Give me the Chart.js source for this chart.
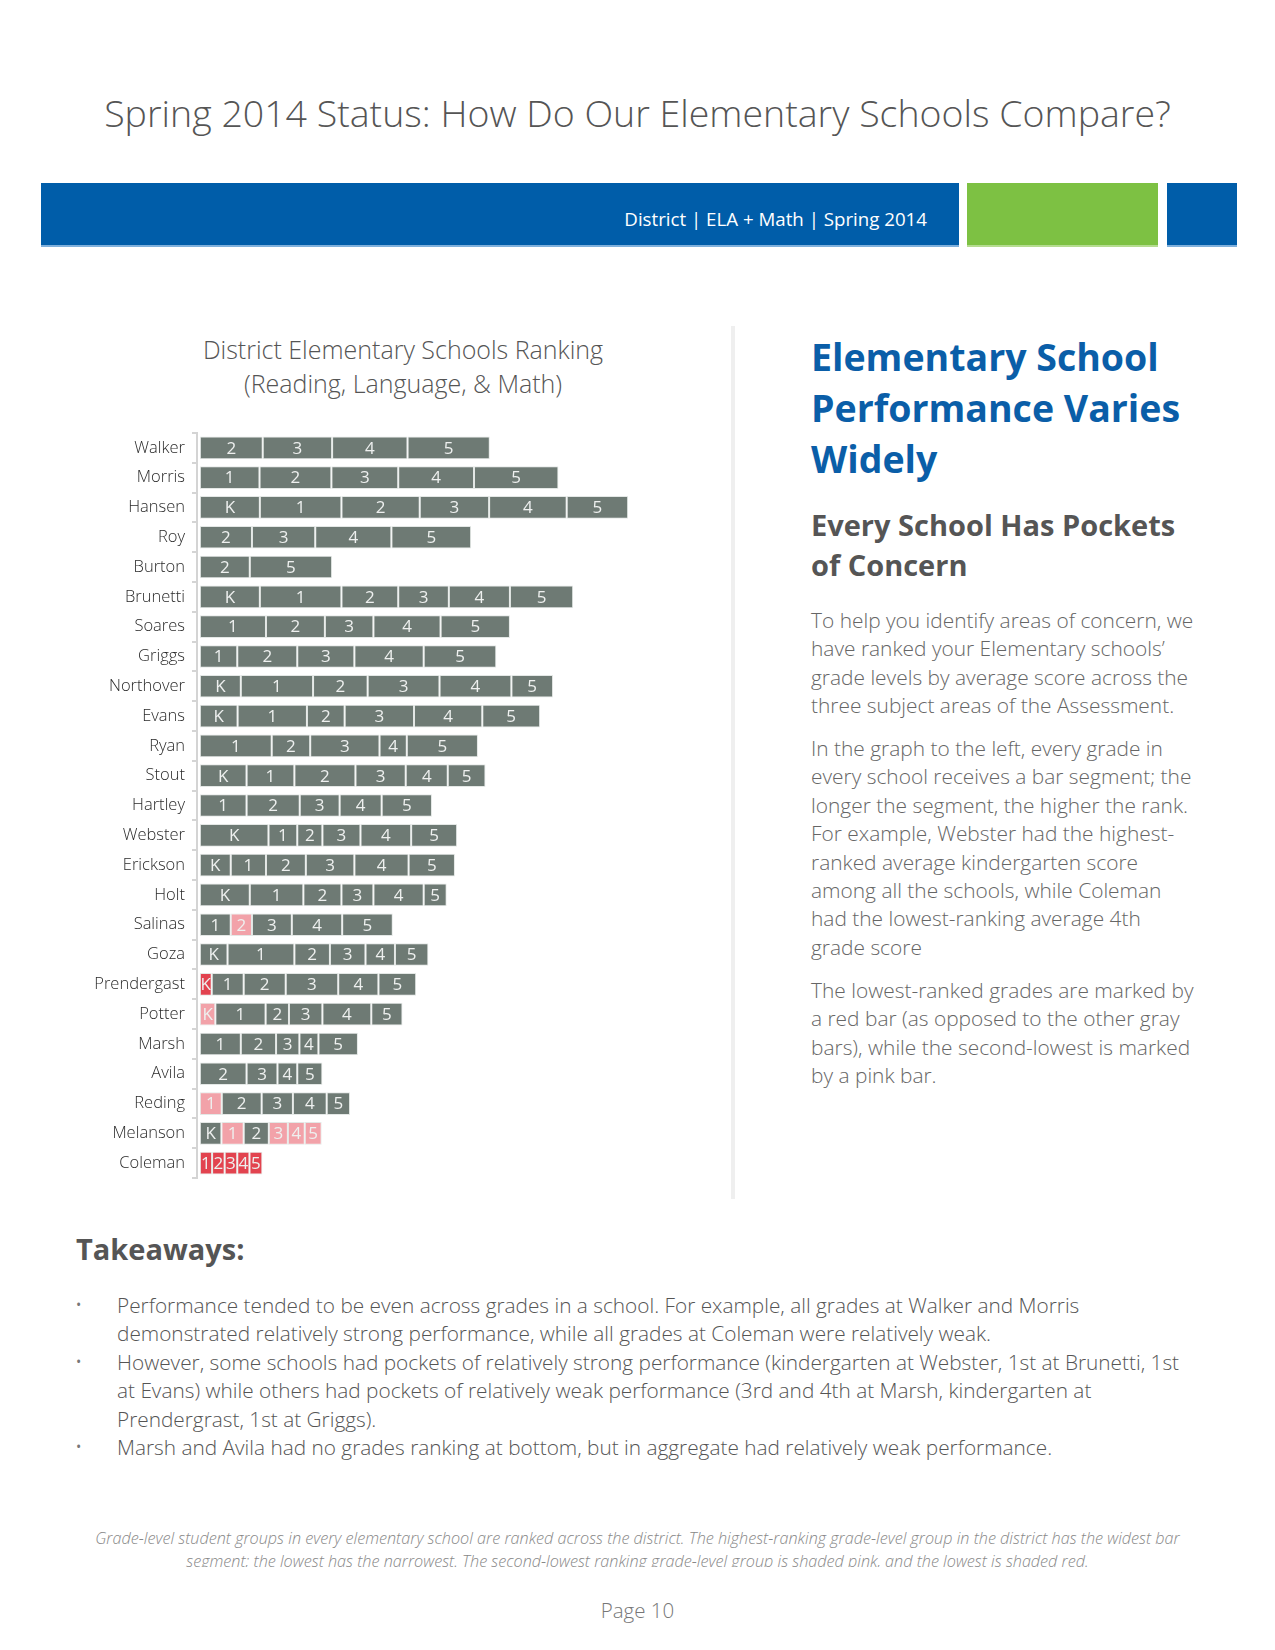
<!DOCTYPE html>
<html>
<head>
<meta charset="utf-8">
<script src="https://cdn.jsdelivr.net/npm/chart.js@4"></script>
<style>
  body { margin: 0; background: #fff; font-family: "Open Sans", sans-serif; }
  #page { position: relative; width: 1275px; height: 1650px; overflow: hidden; }
  .abs { position: absolute; white-space: nowrap; }
  #title { left: 0; width: 1275px; top: 88px; text-align: center; font-size: 37.5px; font-weight: 300; color: #555; line-height: 50px; }
  #band1 { left: 41px; top: 183px; width: 918px; height: 62px; background: #005da9; border-bottom: 2px solid #7fb0dc; }
  #band2 { left: 967px; top: 183px; width: 191px; height: 62px; background: #7dc143; border-bottom: 2px solid #b5dc90; }
  #band3 { left: 1167px; top: 183px; width: 70px; height: 62px; background: #005da9; border-bottom: 2px solid #7fb0dc; }
  #bandtext { right: 348px; top: 206px; font-size: 18.7px; color: #fff; line-height: 26px; }
  #divider { left: 731px; top: 326px; width: 4px; height: 873px; background: #efefef; }
  #ctitle { left: 153px; width: 500px; top: 332px; text-align: center; font-size: 25px; font-weight: 300; color: #555; line-height: 34px; }
  #chartbox { position: absolute; left: 40px; top: 416px; width: 600px; height: 779px; }
  #h1 { left: 811px; top: 331px; font-size: 37.5px; font-weight: 700; color: #0a5ea8; line-height: 51px; }
  #h2 { left: 811px; top: 505px; font-size: 29px; font-weight: 700; color: #555; line-height: 40px; }
  .para { left: 811px; font-size: 20.9px; font-weight: 300; color: #666; line-height: 28.4px; }
  #take { left: 76px; top: 1229px; font-size: 29px; font-weight: 700; color: #555; line-height: 40px; }
  .bul { left: 117px; font-size: 20.8px; font-weight: 300; color: #555; line-height: 28.4px; }
  .dot { left: 76px; font-size: 14px; color: #777; }
  #foot { left: 0; width: 1275px; top: 1527px; height: 40px; overflow: hidden; text-align: center; font-size: 16.2px; font-style: italic; font-weight: 300; color: #888; line-height: 23px; }
  #pnum { left: 0; width: 1275px; top: 1596px; text-align: center; font-size: 20.5px; font-weight: 300; color: #777; line-height: 28px; }
</style>
</head>
<body>
<div id="page">
  <div class="abs" id="title">Spring 2014 Status: How Do Our Elementary Schools Compare?</div>
  <div class="abs" id="band1"></div>
  <div class="abs" id="band2"></div>
  <div class="abs" id="band3"></div>
  <div class="abs" id="bandtext">District | ELA + Math | Spring 2014</div>
  <div class="abs" id="divider"></div>

  <div class="abs" id="ctitle">District Elementary Schools Ranking<br>(Reading, Language, &amp; Math)</div>
  <div id="chartbox"><canvas id="rankChart"></canvas></div>

  <div class="abs" id="h1">Elementary School<br>Performance Varies<br>Widely</div>
  <div class="abs" id="h2">Every School Has Pockets<br>of Concern</div>
  <div class="abs para" style="top:606px">To help you identify areas of concern, we<br>have ranked your Elementary schools’<br>grade levels by average score across the<br>three subject areas of the Assessment.</div>
  <div class="abs para" style="top:734px">In the graph to the left, every grade in<br>every school receives a bar segment; the<br>longer the segment, the higher the rank.<br>For example, Webster had the highest-<br>ranked average kindergarten score<br>among all the schools, while Coleman<br>had the lowest-ranking average 4th<br>grade score</div>
  <div class="abs para" style="top:976px">The lowest-ranked grades are marked by<br>a red bar (as opposed to the other gray<br>bars), while the second-lowest is marked<br>by a pink bar.</div>

  <div class="abs" id="take">Takeaways:</div>
  <div class="abs dot" style="top:1295px">•</div>
  <div class="abs dot" style="top:1352px">•</div>
  <div class="abs dot" style="top:1437px">•</div>
  <div class="abs bul" style="top:1291px">Performance tended to be even across grades in a school. For example, all grades at Walker and Morris<br>demonstrated relatively strong performance, while all grades at Coleman were relatively weak.</div>
  <div class="abs bul" style="top:1348px">However, some schools had pockets of relatively strong performance (kindergarten at Webster, 1st at Brunetti, 1st<br>at Evans) while others had pockets of relatively weak performance (3rd and 4th at Marsh, kindergarten at<br>Prendergrast, 1st at Griggs).</div>
  <div class="abs bul" style="top:1433px">Marsh and Avila had no grades ranking at bottom, but in aggregate had relatively weak performance.</div>

  <div class="abs" id="foot">Grade-level student groups in every elementary school are ranked across the district. The highest-ranking grade-level group in the district has the widest bar<br>segment; the lowest has the narrowest. The second-lowest ranking grade-level group is shaded pink, and the lowest is shaded red.</div>
  <div class="abs" id="pnum">Page 10</div>
</div>

<script>
const schools = ["Walker", "Morris", "Hansen", "Roy", "Burton", "Brunetti", "Soares", "Griggs",
  "Northover", "Evans", "Ryan", "Stout", "Hartley", "Webster", "Erickson", "Holt", "Salinas",
  "Goza", "Prendergast", "Potter", "Marsh", "Avila", "Reding", "Melanson", "Coleman"];

const grades = ["K", "1", "2", "3", "4", "5"];

// segment width per grade (wider = higher rank), null = grade not present
const gradeK = [null, null, 167, null, null, 167, null, null, 114, 105, null, 130, null, 191, 86, 139, null, 77, 33, 43, null, null, null, 60, null];
const grade1 = [null, 166, 227, null, null, 227, 184, 104, 201, 193, 200, 133, 130, 80, 98, 149, 86, 186, 89, 140, 114, null, 61, 62, 34];
const grade2 = [175, 200, 218, 145, 139, 158, 164, 167, 152, 105, 107, 170, 148, 70, 111, 106, 59, 99, 117, 65, 98, 130, 111, 70, 35];
const grade3 = [193, 186, 193, 176, null, 141, 135, 159, 200, 193, 193, 140, 111, 106, 135, 89, 111, 99, 146, 93, 65, 86, 87, 53, 35];
const grade4 = [210, 211, 216, 212, null, 170, 187, 193, 200, 190, 76, 117, 117, 141, 151, 140, 140, 82, 112, 136, 53, 55, 94, 47, 34];
const grade5 = [229, 235, 171, 222, 229, 176, 193, 202, 116, 161, 198, 105, 140, 128, 129, 64, 141, 93, 105, 87, 110, 70, 65, 47, 36];

// lowest and second-lowest ranked groups
const lowest = ["Prendergast|K", "Coleman|1", "Coleman|2", "Coleman|3", "Coleman|4", "Coleman|5"];
const secondLowest = ["Potter|K", "Salinas|2", "Reding|1", "Melanson|1", "Melanson|3", "Melanson|4", "Melanson|5"];

const values = [gradeK, grade1, grade2, grade3, grade4, grade5];

function segColor(school, grade) {
  const key = school + "|" + grade;
  if (lowest.includes(key)) return "#e2434f";
  if (secondLowest.includes(key)) return "#f2a2a9";
  return "#6e7a74";
}

const datasets = grades.map((g, i) => ({
  label: g,
  data: values[i],
  backgroundColor: schools.map(s => segColor(s, g)),
  borderColor: "#e4e8e6",
  borderWidth: 1,
  borderSkipped: false,
  barPercentage: 0.76,
  categoryPercentage: 1,
}));

// grade label in the middle of each segment
const segLabels = {
  id: "segLabels",
  afterDatasetsDraw(chart) {
    const ctx = chart.ctx;
    ctx.save();
    ctx.font = "400 17px 'Open Sans'";
    ctx.fillStyle = "#eef0ef";
    ctx.textAlign = "center";
    ctx.textBaseline = "middle";
    chart.data.datasets.forEach((ds, i) => {
      chart.getDatasetMeta(i).data.forEach((bar, j) => {
        if (ds.data[j] == null) return;
        ctx.fillText(ds.label, (bar.x + bar.base) / 2, bar.y + 1);
      });
    });
    ctx.restore();
  },
};

new Chart(document.getElementById("rankChart"), {
  type: "bar",
  data: { labels: schools, datasets: datasets },
  options: {
    indexAxis: "y",
    responsive: true,
    maintainAspectRatio: false,
    animation: false,
    layout: { padding: { top: 6, bottom: 5, left: 0, right: 0 } },
    plugins: { legend: { display: false }, tooltip: { enabled: false } },
    scales: {
      x: {
        stacked: true,
        display: false,
        min: -8,
        max: 1225,
      },
      y: {
        stacked: true,
        afterFit(scale) { scale.width = 157; },
        border: { display: true, color: "#d4d4d4", width: 2 },
        grid: { drawOnChartArea: false, drawTicks: true, tickLength: 5, color: "#d4d4d4", lineWidth: 2, offset: true },
        ticks: { color: "#2a2a2a", padding: 7, font: { family: "'Open Sans'", size: 16.5, weight: 300 } },
      },
    },
  },
  plugins: [segLabels],
});
</script>
</body>
</html>
